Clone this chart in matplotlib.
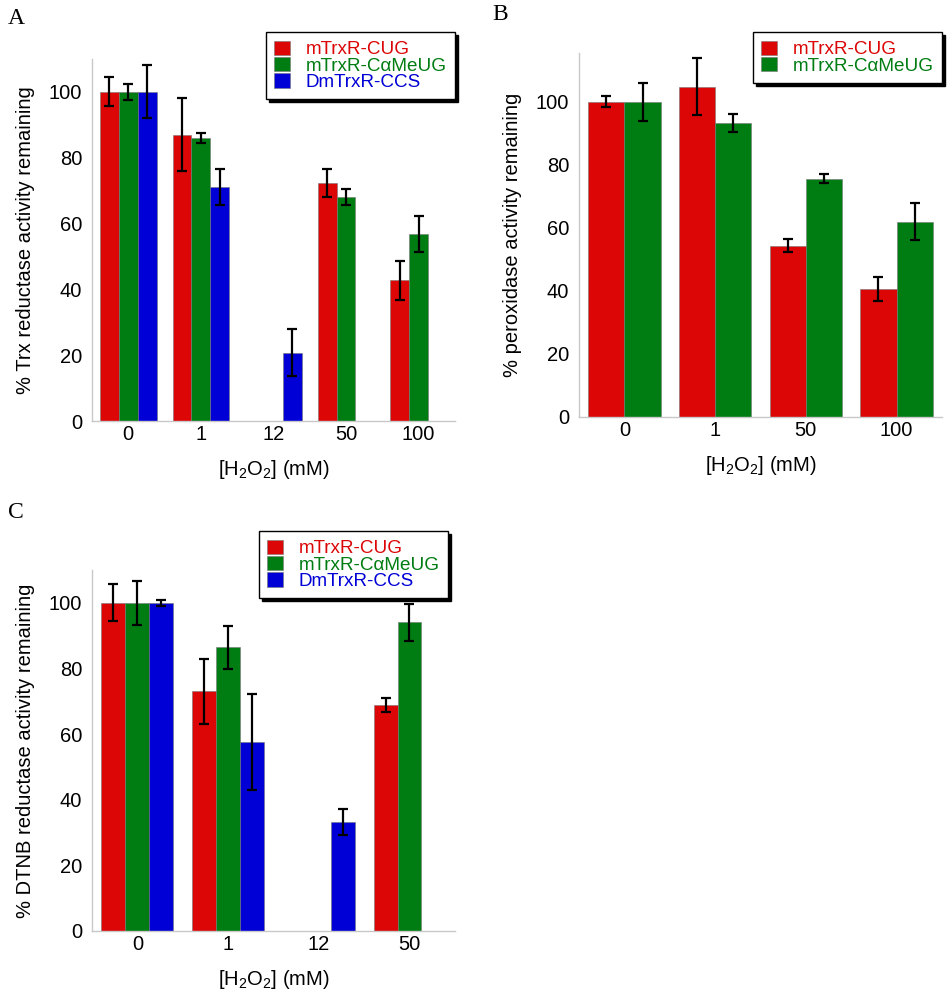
import numpy as np
import matplotlib
matplotlib.use("Agg")
import matplotlib.pyplot as plt

plt.rcParams['font.family'] = ['Liberation Sans', 'DejaVu Sans']
plt.rcParams['mathtext.default'] = 'regular'

# colours of the three enzymes
c_red = '#dc0606'
c_green = '#007d12'
c_blue = '#0000d6'

series_names = ['mTrxR-CUG', 'mTrxR-C\u03b1MeUG', 'DmTrxR-CCS']
series_colors = [c_red, c_green, c_blue]

# panel A: Trx reductase activity
a_conc = ['0', '1', '12', '50', '100']
a_cug = [100, 87, np.nan, 72.3, 42.7]
a_cug_err = [4.4, 11, np.nan, 4.3, 6]
a_me = [100, 86, np.nan, 68.1, 56.9]
a_me_err = [2.5, 1.6, np.nan, 2.4, 5.5]
a_ccs = [100, 71.1, 20.8, np.nan, np.nan]
a_ccs_err = [8, 5.5, 7.2, np.nan, np.nan]

# panel B: peroxidase activity
b_conc = ['0', '1', '50', '100']
b_cug = [100, 104.8, 54.3, 40.5]
b_cug_err = [1.7, 9, 2.1, 3.8]
b_me = [100, 93.2, 75.6, 61.9]
b_me_err = [6, 2.9, 1.4, 5.9]

# panel C: DTNB reductase activity
c_conc = ['0', '1', '12', '50']
c_cug = [100, 73, np.nan, 68.8]
c_cug_err = [5.6, 10, np.nan, 2.2]
c_me = [100, 86.4, np.nan, 94.1]
c_me_err = [6.8, 6.5, np.nan, 5.6]
c_ccs = [100, 57.6, 33.2, np.nan]
c_ccs_err = [1, 14.5, 4, np.nan]


def draw_panel(ax, cats, vals, errs, width, ylabel, ytop):
    x = np.arange(len(cats))
    n = len(vals)
    for k in range(n):
        off = (k - (n - 1) / 2.0) * width
        v = np.array(vals[k], dtype=float)
        e = np.array(errs[k], dtype=float)
        m = np.isfinite(v)
        ax.bar(x[m] + off, v[m], width, color=series_colors[k],
               edgecolor='#777777', linewidth=0.4, label=series_names[k])
        ax.errorbar(x[m] + off, v[m], yerr=e[m], fmt='none', ecolor='black',
                    elinewidth=1.6, capsize=3.5, capthick=1.6)
    ax.set_xlim(-0.5, len(cats) - 0.5)
    ax.set_ylim(0, ytop)
    ax.set_xticks(x)
    ax.set_xticklabels(cats)
    ax.set_yticks(range(0, 101, 20))
    ax.tick_params(length=0, labelsize=14.5)
    ax.tick_params(axis='y', pad=7)
    ax.tick_params(axis='x', pad=3)
    for s in ['top', 'right']:
        ax.spines[s].set_visible(False)
    for s in ['left', 'bottom']:
        ax.spines[s].set_color('#c8c8c8')
        ax.spines[s].set_linewidth(1.0)
    ax.set_ylabel(ylabel, fontsize=14.5, labelpad=10)
    ax.set_xlabel('[H$_2$O$_2$] (mM)', fontsize=14.5, labelpad=10)


def add_legend(fig, ax, anchor):
    leg = ax.legend(loc='upper right', bbox_to_anchor=anchor,
                    bbox_transform=fig.transFigure, borderaxespad=0,
                    fontsize=13.6, frameon=True, fancybox=False,
                    shadow={'color': 'black', 'alpha': 1.0},
                    handlelength=0.85, handleheight=0.8, handletextpad=0.8,
                    labelspacing=-0.08, borderpad=0.45)
    leg.get_frame().set_edgecolor('black')
    leg.get_frame().set_linewidth(1.0)
    for t, h in zip(leg.get_texts(), leg.legend_handles):
        t.set_color(h.get_facecolor())
    return leg


fig = plt.figure(figsize=(9.5, 10.06), dpi=100)

axA = fig.add_axes([0.0968, 0.5815, 0.382, 0.36])
draw_panel(axA, a_conc, [a_cug, a_me, a_ccs], [a_cug_err, a_me_err, a_ccs_err],
           0.26, '% Trx reductase activity remaining', 110)
add_legend(fig, axA, (455 / 950, 1 - 32 / 1006))

axB = fig.add_axes([0.6095, 0.5858, 0.382, 0.3612])
draw_panel(axB, b_conc, [b_cug, b_me], [b_cug_err, b_me_err],
           0.4, '% peroxidase activity remaining', 115.4)
add_legend(fig, axB, (942 / 950, 1 - 32 / 1006))

axC = fig.add_axes([0.0968, 0.0746, 0.382, 0.3588])
draw_panel(axC, c_conc, [c_cug, c_me, c_ccs], [c_cug_err, c_me_err, c_ccs_err],
           0.264, '% DTNB reductase activity remaining', 110)
add_legend(fig, axC, (448 / 950, 1 - 531 / 1006))

serif = ['Liberation Serif', 'DejaVu Serif']
fig.text(8 / 950, 1 - 18 / 1006, 'A', family=serif, fontsize=17, va='center', ha='left')
fig.text(492 / 950, 1 - 15 / 1006, 'B', family=serif, fontsize=17, va='center', ha='left')
fig.text(8 / 950, 1 - 513 / 1006, 'C', family=serif, fontsize=17, va='center', ha='left')

fig.savefig('out.png', dpi=100)
